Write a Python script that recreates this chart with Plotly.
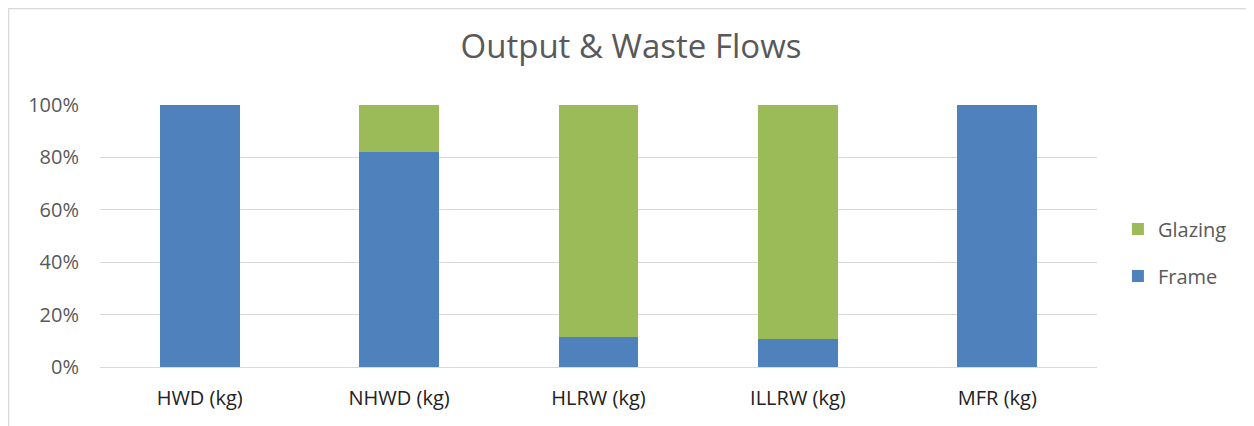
import plotly.graph_objects as go

categories = ["HWD (kg)", "NHWD (kg)", "HLRW (kg)", "ILLRW (kg)", "MFR (kg)"]
frame = [1.0, 0.82, 0.115, 0.107, 1.0]
glazing = [0.0, 0.18, 0.885, 0.893, 0.0]

fig = go.Figure()
fig.add_trace(go.Bar(name="Frame", x=categories, y=frame, marker_color="#4F81BD",
                     marker_line_width=0, width=0.4, legendgroup="f", legendrank=2))
fig.add_trace(go.Bar(name="Glazing", x=categories, y=glazing, marker_color="#9BBB59",
                     marker_line_width=0, width=0.4, legendgroup="g", legendrank=1))

font = "Open Sans"
W, H = 1246, 418
L, T, R, B = 92, 97, 1246 - 1089, 418 - 359
fig.update_layout(
    barmode="stack",
    width=W, height=H,
    paper_bgcolor="white", plot_bgcolor="white",
    margin=dict(l=L, r=R, t=T, b=B),
    title=dict(text="Output & Waste Flows", x=0.5, xanchor="center", xref="container",
               y=0.907, yanchor="middle",
               font=dict(family=font, size=33, color="#595959")),
    font=dict(family=font, color="#595959"),
    legend=dict(x=1.021, y=0.437, xanchor="left", yanchor="middle",
                traceorder="grouped", tracegroupgap=18,
                font=dict(family=font, size=20, color="#595959"), itemwidth=30),
    yaxis=dict(range=[0, 1], tickformat=".0%", dtick=0.2, showgrid=True,
               gridcolor="#D9D9D9", gridwidth=1, zeroline=False, showline=False,
               tickfont=dict(family=font, size=20, color="#595959"), ticks="",
               ticklabelstandoff=20),
    xaxis=dict(showline=True, linecolor="#D9D9D9", linewidth=1,
               tickfont=dict(family=font, size=20, color="#222222"), ticks="",
               ticklabelstandoff=13),
)
# chart-area border (top and left edges visible)
fig.add_shape(type="line", xref="paper", yref="paper",
              x0=-L / 997, x1=(W - L) / 997, y0=(359 - 0.5) / 262, y1=(359 - 0.5) / 262,
              line=dict(color="#D9D9D9", width=1.5))
fig.add_shape(type="line", xref="paper", yref="paper",
              x0=-(L - 0.5) / 997, x1=-(L - 0.5) / 997, y0=(359 - 418) / 262, y1=359 / 262,
              line=dict(color="#D9D9D9", width=1.5))
fig.write_html("out.html")
